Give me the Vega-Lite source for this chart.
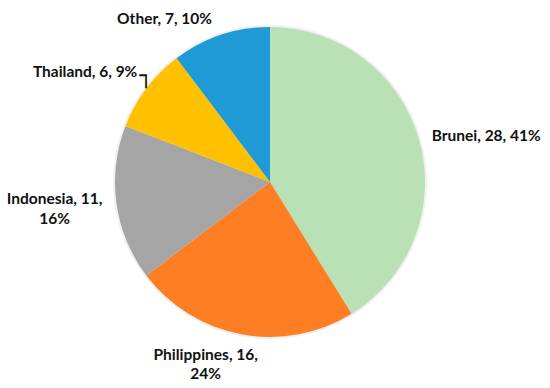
{
  "$schema": "https://vega.github.io/schema/vega-lite/v6.json",
  "autosize": "none",
  "width": 540,
  "height": 364,
  "padding": {"left": 0, "top": 0, "right": 10, "bottom": 24},
  "background": "white",
  "config": {"view": {"stroke": null}},
  "data": {"values": [
    {"name": "Brunei", "value": 28, "ord": 1, "label": "Brunei, 28, 41%"},
    {"name": "Philippines", "value": 16, "ord": 2, "label": "Philippines, 16,\n24%"},
    {"name": "Indonesia", "value": 11, "ord": 3, "label": "Indonesia, 11,\n16%"},
    {"name": "Thailand", "value": 6, "ord": 4, "label": "Thailand, 6, 9%"},
    {"name": "Other", "value": 7, "ord": 5, "label": "Other, 7, 10%"}
  ]},
  "encoding": {
    "theta": {"field": "value", "type": "quantitative", "stack": true},
    "order": {"field": "ord", "type": "quantitative"}
  },
  "layer": [
    {
      "mark": {"type": "arc", "radius": 157, "color": "#000000", "opacity": 0.06},
      "encoding": {"detail": {"field": "name"}}
    },
    {
      "mark": {"type": "arc", "radius": 155},
      "encoding": {
        "color": {"field": "name", "type": "nominal", "legend": null,
          "scale": {"domain": ["Brunei", "Philippines", "Indonesia", "Thailand", "Other"],
                    "range": ["#B9E1B5", "#FD7E23", "#A5A5A5", "#FFC000", "#1F9AD7"]}}
      }
    },
    {
      "mark": {"type": "text", "radius": 165, "align": "left", "baseline": "middle", "dx": 3, "dy": -1, "font": "Lato", "fontWeight": "bold", "fontSize": 15.5, "color": "#111111", "lineBreak": "\n"},
      "encoding": {"detail": {"field": "name"}, "text": {"condition": {"test": "datum.name === 'Brunei'", "field": "label"}, "value": ""}}
    },
    {
      "mark": {"type": "text", "radius": 165, "align": "center", "baseline": "middle", "dx": -34, "dy": 11, "font": "Lato", "fontWeight": "bold", "fontSize": 15.5, "lineHeight": 19, "color": "#111111", "lineBreak": "\n"},
      "encoding": {"detail": {"field": "name"}, "text": {"condition": {"test": "datum.name === 'Philippines'", "field": "label"}, "value": ""}}
    },
    {
      "mark": {"type": "text", "radius": 165, "align": "center", "baseline": "middle", "dx": -52, "dy": -6, "font": "Lato", "fontWeight": "bold", "fontSize": 15.5, "lineHeight": 20, "color": "#111111", "lineBreak": "\n"},
      "encoding": {"detail": {"field": "name"}, "text": {"condition": {"test": "datum.name === 'Indonesia'", "field": "label"}, "value": ""}}
    },
    {
      "mark": {"type": "text", "radius": 165, "align": "right", "baseline": "middle", "dx": -1, "dy": -11, "font": "Lato", "fontWeight": "bold", "fontSize": 15.5, "color": "#111111", "lineBreak": "\n"},
      "encoding": {"detail": {"field": "name"}, "text": {"condition": {"test": "datum.name === 'Thailand'", "field": "label"}, "value": ""}}
    },
    {
      "mark": {"type": "text", "radius": 165, "align": "left", "baseline": "alphabetic", "dx": 1, "dy": 0, "font": "DejaVu Sans", "fontSize": 22, "color": "#111111"},
      "encoding": {"detail": {"field": "name"}, "text": {"condition": {"test": "datum.name === 'Thailand'", "value": "┐"}, "value": ""}}
    },
    {
      "mark": {"type": "text", "radius": 165, "align": "center", "baseline": "middle", "dx": -53, "dy": -7, "font": "Lato", "fontWeight": "bold", "fontSize": 15.5, "color": "#111111", "lineBreak": "\n"},
      "encoding": {"detail": {"field": "name"}, "text": {"condition": {"test": "datum.name === 'Other'", "field": "label"}, "value": ""}}
    }
  ]
}
